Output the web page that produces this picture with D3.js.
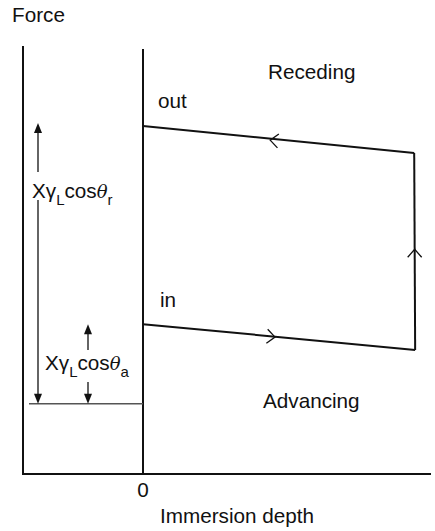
<!DOCTYPE html>
<html>
<head>
<script src="https://d3js.org/d3.v7.min.js"></script>
<style>
body { margin:0; background:#fff; }
text { font-family: "Liberation Sans", Arial, Helvetica, sans-serif; font-size:20.7px; fill:#111; }
</style>
</head>
<body>
<svg id="chart" width="435" height="531"></svg>
<script>
// hysteresis loop (depth, force) in arbitrary units
var outLine = [[0, 81.3], [5.65, 75.0]];
var inLine = [[0, 35.0], [5.67, 29.0]];
var rightEdge = [[5.65, 75.0], [5.67, 29.0]];
var baseForce = 16.4;
var zeroTop = 99.3;
// chevrons along loop: [depth, force, direction]
var chevrons = [[2.65, 78.0, "left"], [2.75, 32.0, "right"], [5.66, 52.5, "up"]];
var xTicks = [0];

var svg = d3.select("#chart");
var x = d3.scaleLinear().domain([-2.5, 6.0]).range([23, 431]);
var y = d3.scaleLinear().domain([0, 100]).range([474, 46]);

var line = d3.line().x(function(d){ return x(d[0]); }).y(function(d){ return y(d[1]); });

// axes
svg.append("line").attr("x1", x(-2.5)).attr("x2", x(-2.5)).attr("y1", y(100)).attr("y2", y(0))
  .attr("stroke", "#111").attr("stroke-width", 2);
svg.append("line").attr("x1", x(-2.5) - 1).attr("x2", x(6.0)).attr("y1", y(0)).attr("y2", y(0))
  .attr("stroke", "#111").attr("stroke-width", 2);
svg.append("line").attr("x1", x(0)).attr("x2", x(0)).attr("y1", y(zeroTop)).attr("y2", y(0))
  .attr("stroke", "#111").attr("stroke-width", 2);

svg.selectAll(".tick").data(xTicks).enter().append("text")
  .attr("x", function(d){ return x(d); }).attr("y", 497)
  .attr("text-anchor", "middle").text(function(d){ return d; });

// baseline
svg.append("line").attr("x1", 29).attr("x2", x(0)).attr("y1", y(baseForce)).attr("y2", y(baseForce))
  .attr("stroke", "#555").attr("stroke-width", 1.6);

// loop
[outLine, inLine, rightEdge].forEach(function(seg){
  svg.append("path").attr("d", line(seg)).attr("fill", "none")
    .attr("stroke", "#111").attr("stroke-width", 2);
});

var rot = { left: 0, right: 180, up: 90 };
var slope = {
  left: Math.atan2(y(outLine[1][1]) - y(outLine[0][1]), x(outLine[1][0]) - x(outLine[0][0])) * 180 / Math.PI,
  right: Math.atan2(y(inLine[1][1]) - y(inLine[0][1]), x(inLine[1][0]) - x(inLine[0][0])) * 180 / Math.PI,
  up: 0
};
svg.selectAll(".chev").data(chevrons).enter().append("path")
  .attr("d", "M8,-7 L0,0 L8,7")
  .attr("fill", "none").attr("stroke", "#111").attr("stroke-width", 1.3)
  .attr("transform", function(d){
    return "translate(" + x(d[0]) + "," + y(d[1]) + ") rotate(" + (rot[d[2]] + slope[d[2]]) + ")";
  });

// dimension arrows
function arrow(px, yFrom, yTo) {
  svg.append("line").attr("x1", px).attr("x2", px).attr("y1", yFrom)
    .attr("y2", yTo + (yTo < yFrom ? 8 : -8)).attr("stroke", "#111").attr("stroke-width", 1.3);
  var dir = yTo < yFrom ? 1 : -1;
  svg.append("path")
    .attr("d", "M" + px + "," + yTo + " L" + (px - 4) + "," + (yTo + dir * 10) + " L" + (px + 4) + "," + (yTo + dir * 10) + "Z")
    .attr("fill", "#111");
}
arrow(38, 172, y(outLine[0][1]) - 3);
arrow(38, 200, y(baseForce));
arrow(88, 350, y(inLine[0][1]));
arrow(88, 382, y(baseForce));

// math labels
function mathLabel(px, py, sub) {
  var t = svg.append("text").attr("x", px).attr("y", py);
  t.append("tspan").text("X");
  t.append("tspan").text("γ");
  t.append("tspan").attr("dy", 7).attr("font-size", 15).text("L");
  t.append("tspan").attr("dy", -7).text("cos");
  t.append("tspan").attr("font-style", "italic").attr("font-family", "'DejaVu Serif', serif").attr("font-size", 18).text("θ");
  t.append("tspan").attr("dy", 7).attr("font-size", 15).text(sub);
}
mathLabel(32, 198, "r");
mathLabel(45, 370, "a");

// text labels
svg.append("text").attr("x", 12).attr("y", 22).text("Force");
svg.append("text").attr("x", 158).attr("y", 108).text("out");
svg.append("text").attr("x", 160).attr("y", 307).text("in");
svg.append("text").attr("x", 268).attr("y", 79).text("Receding");
svg.append("text").attr("x", 263).attr("y", 408).text("Advancing");
svg.append("text").attr("x", 160).attr("y", 523).text("Immersion depth");
</script>
</body>
</html>
